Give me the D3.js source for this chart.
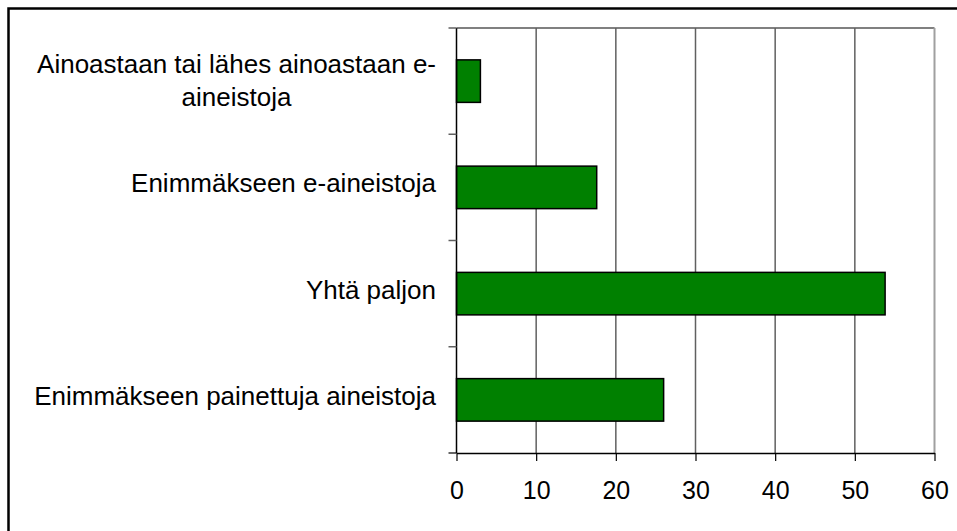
<!DOCTYPE html>
<html>
<head>
<meta charset="utf-8">
<script src="https://cdn.jsdelivr.net/npm/d3@7"></script>
<style>
  html, body { margin: 0; padding: 0; background: #ffffff; }
  svg { display: block; }
  text { font-family: "Liberation Sans", Arial, sans-serif; fill: #000; }
</style>
</head>
<body>
<svg id="chart" width="957" height="531"></svg>
<script>
// ---- data ----
const categories = [
  "Ainoastaan tai lähes ainoastaan e-aineistoja",
  "Enimmäkseen e-aineistoja",
  "Yhtä paljon",
  "Enimmäkseen painettuja aineistoja"
];
const values = [3, 17.6, 53.8, 26];
const xTicks = [0, 10, 20, 30, 40, 50, 60];

// ---- layout ----
const W = 957, H = 531;
const plot = { left: 456.5, right: 934.5, top: 28, bottom: 453 };
const fontSize = 26;
const tickFontSize = 25;
const lineH = 33;
const labelRight = 436;
const maxLabelW = 410;

const svg = d3.select("#chart");

// outer frame
svg.append("rect")
  .attr("x", 8.5).attr("y", 8.5)
  .attr("width", W + 20).attr("height", H + 20)
  .attr("fill", "none").attr("stroke", "#000").attr("stroke-width", 2.5);

const x = d3.scaleLinear().domain([0, 60]).range([plot.left, plot.right]);
const y = d3.scaleBand().domain(categories).range([plot.top, plot.bottom])
  .paddingInner(0.6).paddingOuter(0.3);
const yBand = d3.scaleBand().domain(categories).range([plot.top, plot.bottom]);

// plot border (top, right)
svg.append("line").attr("x1", plot.left).attr("x2", plot.right)
  .attr("y1", plot.top).attr("y2", plot.top)
  .attr("stroke", "#808080").attr("stroke-width", 2);
svg.append("line").attr("x1", plot.right).attr("x2", plot.right)
  .attr("y1", plot.top).attr("y2", plot.bottom)
  .attr("stroke", "#a0a0a0").attr("stroke-width", 2);

// vertical gridlines
svg.append("g").selectAll("line")
  .data(xTicks.filter(d => d > 0 && d < 60))
  .join("line")
  .attr("x1", d => x(d)).attr("x2", d => x(d))
  .attr("y1", plot.top).attr("y2", plot.bottom)
  .attr("stroke", "#606060").attr("stroke-width", 1.5);

// bars
svg.append("g").selectAll("rect")
  .data(categories)
  .join("rect")
  .attr("x", x(0))
  .attr("y", d => y(d))
  .attr("width", (d, i) => x(values[i]) - x(0))
  .attr("height", y.bandwidth())
  .attr("fill", "#008000")
  .attr("stroke", "#000")
  .attr("stroke-width", 1.5);

// x axis
const xAxis = d3.axisBottom(x).tickValues(xTicks).tickSize(8).tickSizeOuter(0).tickPadding(20);
const gx = svg.append("g").attr("transform", `translate(0,${plot.bottom})`).call(xAxis);
gx.select(".domain").attr("stroke", "#000").attr("stroke-width", 1.5);
gx.selectAll(".tick line").attr("stroke", "#000").attr("stroke-width", 1.2);
gx.selectAll(".tick text")
  .attr("font-size", tickFontSize)
  .attr("font-family", "Liberation Sans, Arial, sans-serif")
  .attr("fill", "#000");
// extend axis line slightly left
svg.append("line").attr("x1", plot.left - 8).attr("x2", plot.left)
  .attr("y1", plot.bottom).attr("y2", plot.bottom)
  .attr("stroke", "#000").attr("stroke-width", 1.2);

// y axis (line + ticks at band boundaries)
svg.append("line").attr("x1", plot.left).attr("x2", plot.left)
  .attr("y1", plot.top).attr("y2", plot.bottom)
  .attr("stroke", "#000").attr("stroke-width", 1.5);
svg.append("g").selectAll("line")
  .data(categories)
  .join("line")
  .attr("x1", plot.left - 8).attr("x2", plot.left)
  .attr("y1", d => yBand(d)).attr("y2", d => yBand(d))
  .attr("stroke", "#606060").attr("stroke-width", 1.5);

// category labels with wrapping
const measure = svg.append("text").attr("font-size", fontSize).attr("visibility", "hidden");
function textW(s) { measure.text(s); return measure.node().getComputedTextLength(); }
function wrap(label) {
  const tokens = label.match(/[^\s-]+-?|\s+/g).filter(t => t.trim() !== "");
  const lines = [];
  let cur = "";
  tokens.forEach(t => {
    const sep = cur === "" ? "" : (cur.endsWith("-") ? "" : " ");
    const cand = cur + sep + t;
    if (cur !== "" && textW(cand) > maxLabelW) { lines.push(cur); cur = t; }
    else cur = cand;
  });
  if (cur) lines.push(cur);
  return lines;
}

const labels = svg.append("g");
categories.forEach(c => {
  const lines = wrap(c);
  const blockW = d3.max(lines, textW);
  const cx = labelRight - blockW / 2;
  const center = yBand(c) + yBand.bandwidth() / 2;
  const n = lines.length;
  const t = labels.append("text")
    .attr("font-size", fontSize)
    .attr("text-anchor", "middle");
  lines.forEach((ln, i) => {
    t.append("tspan")
      .attr("x", cx)
      .attr("y", center + 5 + (i - (n - 1) / 2) * lineH + (n > 1 ? 3 : 0))
      .text(ln);
  });
});
measure.remove();
</script>
</body>
</html>
